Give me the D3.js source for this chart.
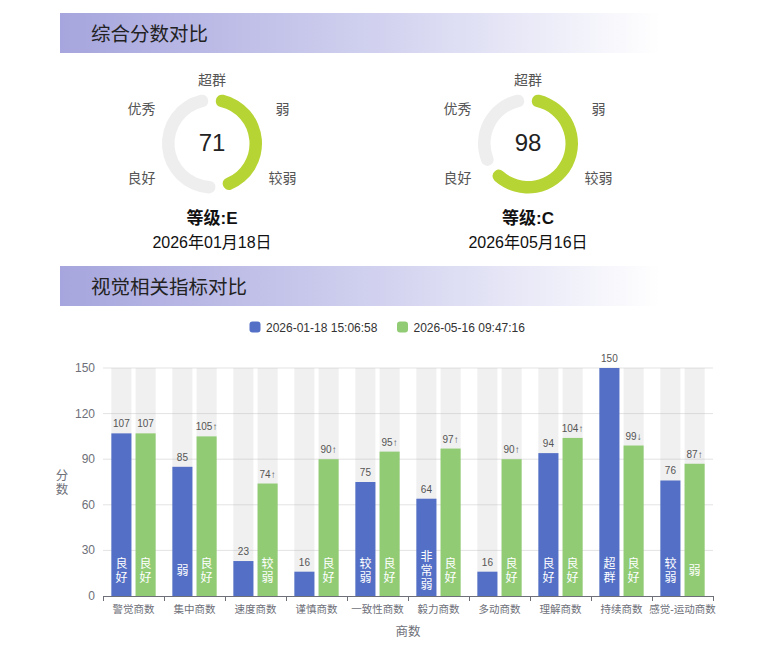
<!DOCTYPE html>
<html>
<head>
<meta charset="utf-8">
<script src="https://cdn.jsdelivr.net/npm/d3@7"></script>
<style>
  html, body { margin: 0; padding: 0; background: #fff; }
  svg { display: block; font-family: "Liberation Sans", Arial, "Noto Sans CJK SC", sans-serif; }
</style>
</head>
<body>
<svg id="chart" width="766" height="646"></svg>
<script>
// ---------- data ----------
const sectionTitles = ["综合分数对比", "视觉相关指标对比"];

const gaugeScores = [71, 98];
const gaugeGrades = ["等级:E", "等级:C"];
const gaugeDates = ["2026年01月18日", "2026年05月16日"];
const gaugeMax = 150;
const gaugeRingLabels = ["超群", "弱", "较弱", "良好", "优秀"];
const gaugeRingLabelAngles = [0, 57, 123, 237, 303];

const seriesNames = ["2026-01-18 15:06:58", "2026-05-16 09:47:16"];
const categories = ["警觉商数", "集中商数", "速度商数", "谨慎商数", "一致性商数", "毅力商数", "多动商数", "理解商数", "持续商数", "感觉-运动商数"];
const valuesFirst = [107, 85, 23, 16, 75, 64, 16, 94, 150, 76];
const valuesSecond = [107, 105, 74, 90, 95, 97, 90, 104, 99, 87];
const topLabelsFirst = ["107", "85", "23", "16", "75", "64", "16", "94", "150", "76"];
const topLabelsSecond = ["107", "105↑", "74↑", "90↑", "95↑", "97↑", "90↑", "104↑", "99↓", "87↑"];
const gradesFirst = ["良好", "弱", "", "", "较弱", "非常弱", "", "良好", "超群", "较弱"];
const gradesSecond = ["良好", "良好", "较弱", "良好", "良好", "良好", "良好", "良好", "良好", "弱"];
const yTicks = [0, 30, 60, 90, 120, 150];
const yMax = 150;
const yAxisName = "分数";
const xAxisName = "商数";

// ---------- styles ----------
const colors = ["#5470c6", "#91cc75"];
const gaugeColor = "#b6d433";
const gaugeTrack = "#eeeeee";
const axisTextColor = "#6e7079";

const svg = d3.select("#chart");
const defs = svg.append("defs");
const grad = defs.append("linearGradient").attr("id", "hdr").attr("x1", "0%").attr("x2", "100%");
grad.append("stop").attr("offset", "0%").attr("stop-color", "#a6a5dd");
grad.append("stop").attr("offset", "55%").attr("stop-color", "#d3d3f0");
grad.append("stop").attr("offset", "100%").attr("stop-color", "#ffffff");

// ---------- section headers ----------
const headerY = [13, 266];
sectionTitles.forEach((t, i) => {
  svg.append("rect").attr("x", 60).attr("y", headerY[i]).attr("width", 600).attr("height", 40).attr("fill", "url(#hdr)");
  svg.append("text").attr("x", 91).attr("y", headerY[i] + 20.5)
    .attr("dominant-baseline", "central")
    .attr("font-size", 19.5).attr("fill", "#222").text(t);
});

// ---------- gauges ----------
const gaugeCenters = [[212, 143.5], [528, 143.5]];
const angleScale = d3.scaleLinear().domain([0, gaugeMax]).range([0, 2 * Math.PI]);
const ringArc = d3.arc().innerRadius(37.5).outerRadius(50).cornerRadius(6.25).padAngle(0.12);

gaugeScores.forEach((score, i) => {
  const [cx, cy] = gaugeCenters[i];
  const g = svg.append("g").attr("transform", `translate(${cx},${cy})`);
  const a = angleScale(score);
  g.append("path").attr("d", ringArc({ startAngle: a, endAngle: 2 * Math.PI })).attr("fill", gaugeTrack);
  g.append("path").attr("d", ringArc({ startAngle: 0, endAngle: a })).attr("fill", gaugeColor);
  g.append("text").attr("x", 0).attr("y", -1).attr("text-anchor", "middle").attr("dominant-baseline", "central")
    .attr("font-size", 24).attr("fill", "#222").text(score);
  gaugeRingLabels.forEach((lab, k) => {
    const ang = gaugeRingLabelAngles[k] * Math.PI / 180;
    g.append("text")
      .attr("x", 84 * Math.sin(ang))
      .attr("y", -64 * Math.cos(ang))
      .attr("text-anchor", "middle").attr("dominant-baseline", "central")
      .attr("font-size", 14).attr("fill", "#555").text(lab);
  });
  g.append("text").attr("x", 0).attr("y", 218 - cy).attr("text-anchor", "middle").attr("dominant-baseline", "central")
    .attr("font-size", 17).attr("font-weight", "bold").attr("fill", "#111").text(gaugeGrades[i]);
  g.append("text").attr("x", 0).attr("y", 242.5 - cy).attr("text-anchor", "middle").attr("dominant-baseline", "central")
    .attr("font-size", 16).attr("fill", "#111").text(gaugeDates[i]);
});

// ---------- legend ----------
const legendX = [249.5, 397];
seriesNames.forEach((n, i) => {
  svg.append("rect").attr("x", legendX[i]).attr("y", 321.5).attr("width", 11).attr("height", 11).attr("rx", 3).attr("fill", colors[i]);
  svg.append("text").attr("x", legendX[i] + 16.5).attr("y", 327.5).attr("dominant-baseline", "central")
    .attr("font-size", 12).attr("fill", "#333").text(n);
});

// ---------- bar chart ----------
const x0 = d3.scaleBand().domain(categories).range([103, 713]).paddingInner(0).paddingOuter(0);
const bw = x0.bandwidth();
const x1 = d3.scaleBand().domain([0, 1]).range([bw * 0.137, bw * 0.863]).paddingInner(0.17);
const y = d3.scaleLinear().domain([0, yMax]).range([596, 368]);

// gridlines
svg.append("g").selectAll("line").data(yTicks.filter(t => t > 0)).join("line")
  .attr("x1", 103).attr("x2", 713).attr("y1", d => y(d)).attr("y2", d => y(d))
  .attr("stroke", "#e3e3e3").attr("stroke-width", 1);

// y tick labels
svg.append("g").selectAll("text").data(yTicks).join("text")
  .attr("x", 95).attr("y", d => y(d)).attr("text-anchor", "end").attr("dominant-baseline", "central")
  .attr("font-size", 12).attr("fill", axisTextColor).text(d => d);

const seriesVals = [valuesFirst, valuesSecond];
const seriesTop = [topLabelsFirst, topLabelsSecond];
const seriesGrades = [gradesFirst, gradesSecond];

seriesVals.forEach((vals, s) => {
  const g = svg.append("g");
  // background
  g.selectAll("rect.bg").data(categories).join("rect").attr("class", "bg")
    .attr("x", d => x0(d) + x1(s)).attr("width", x1.bandwidth())
    .attr("y", y(yMax)).attr("height", y(0) - y(yMax))
    .attr("fill", "rgba(180,180,180,0.2)");
  // bars
  g.selectAll("rect.bar").data(vals).join("rect").attr("class", "bar")
    .attr("x", (d, i) => x0(categories[i]) + x1(s)).attr("width", x1.bandwidth())
    .attr("y", d => y(d)).attr("height", d => y(0) - y(d))
    .attr("fill", colors[s]);
  // top labels
  g.selectAll("text.top").data(vals).join("text").attr("class", "top")
    .attr("x", (d, i) => x0(categories[i]) + x1(s) + x1.bandwidth() / 2)
    .attr("y", d => y(d) - 6)
    .attr("text-anchor", "middle").attr("font-size", 10).attr("fill", "#555")
    .text((d, i) => seriesTop[s][i]);
  // inside grade labels (vertical)
  vals.forEach((v, i) => {
    const lab = seriesGrades[s][i];
    if (!lab) return;
    const chars = Array.from(lab);
    const cxp = x0(categories[i]) + x1(s) + x1.bandwidth() / 2;
    const mid = y(0) - 25;
    const lh = 14;
    chars.forEach((c, k) => {
      g.append("text").attr("x", cxp).attr("y", mid + (k - (chars.length - 1) / 2) * lh)
        .attr("text-anchor", "middle").attr("dominant-baseline", "central")
        .attr("font-size", 12).attr("fill", "#fff").text(c);
    });
  });
});

// x axis
const xa = svg.append("g");
xa.append("line").attr("x1", 103).attr("x2", 713).attr("y1", y(0) + 0.5).attr("y2", y(0) + 0.5)
  .attr("stroke", axisTextColor).attr("stroke-width", 1);
const tickPos = categories.map(c => x0(c)).concat([x0(categories[categories.length - 1]) + bw]);
xa.selectAll("line.tick").data(tickPos).join("line").attr("class", "tick")
  .attr("x1", d => Math.round(d) + 0.5).attr("x2", d => Math.round(d) + 0.5)
  .attr("y1", y(0)).attr("y2", y(0) + 5).attr("stroke", axisTextColor);
xa.selectAll("text").data(categories).join("text")
  .attr("x", d => x0(d) + bw / 2).attr("y", 608.5)
  .attr("text-anchor", "middle").attr("dominant-baseline", "central")
  .attr("font-size", 10.5).attr("fill", axisTextColor).text(d => d);

// axis names
Array.from(yAxisName).forEach((c, k) => {
  svg.append("text").attr("x", 62).attr("y", 476 + k * 14).attr("text-anchor", "middle").attr("dominant-baseline", "central")
    .attr("font-size", 12.5).attr("fill", axisTextColor).text(c);
});
svg.append("text").attr("x", 408).attr("y", 631.5).attr("text-anchor", "middle").attr("dominant-baseline", "central")
  .attr("font-size", 12.5).attr("fill", axisTextColor).text(xAxisName);
</script>
</body>
</html>
